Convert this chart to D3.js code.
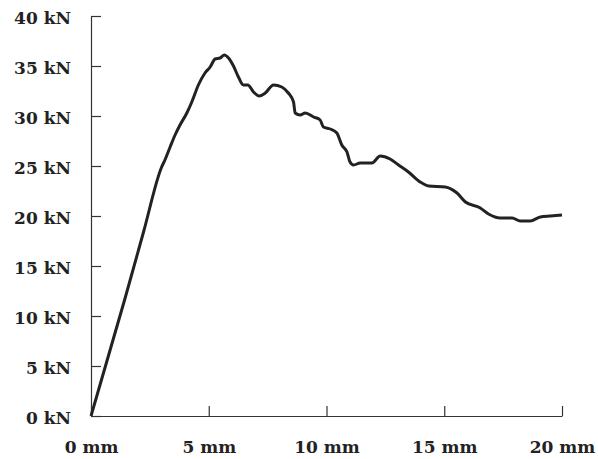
<!DOCTYPE html>
<html>
<head>
<meta charset="utf-8">
<script src="https://cdn.jsdelivr.net/npm/d3@7/dist/d3.min.js"></script>
<style>
  body { margin: 0; background: #fff; }
  .axis text { font-family: "DejaVu Serif", serif; font-weight: bold; font-size: 17px; fill: #222; }
  .axis path, .axis line { stroke: #333; stroke-width: 1.2; }
</style>
</head>
<body>
<svg id="mysvg"></svg>
<script>
// displacement (mm) and force (kN)
const disp = [0, 1.45, 2.23, 3.0, 3.14, 3.36, 3.57, 3.78, 4.07, 4.28, 4.56, 4.84, 5.06, 5.27, 5.48, 5.66, 5.84, 6.05,
    6.26, 6.47, 6.66, 6.9, 7.14, 7.4, 7.75, 8.1, 8.38, 8.6, 8.67, 8.88, 9.1, 9.45, 9.73, 9.87, 10.16, 10.44,
    10.65, 10.87, 11.0, 11.15, 11.43, 11.93, 12.28, 12.7, 13.06, 13.48, 13.98, 14.34, 15.04, 15.54, 15.9,
    16.53, 16.88, 17.38, 17.88, 18.23, 18.65, 19.08, 19.5, 20.0];
const force = [0, 11.8, 18.4, 24.9, 25.6, 26.9, 28.1, 29.1, 30.3, 31.4, 33.1, 34.3, 34.9, 35.7, 35.8, 36.1, 35.8, 35.0,
    33.9, 33.1, 33.1, 32.4, 32.0, 32.3, 33.1, 32.9, 32.3, 31.4, 30.3, 30.1, 30.3, 29.9, 29.6, 28.9, 28.7, 28.3,
    27.1, 26.4, 25.4, 25.1, 25.3, 25.3, 26.0, 25.7, 25.1, 24.4, 23.4, 23.0, 22.9, 22.3, 21.4,
    20.8, 20.2, 19.8, 19.8, 19.5, 19.5, 19.9, 20.0, 20.1];
const xticks = [0, 5, 10, 15, 20];
const yticks = [0, 5, 10, 15, 20, 25, 30, 35, 40];

const w = 598, h = 459;
const margin = {left: 91, right: 36, top: 16, bottom: 43};

const svg = d3.select("#mysvg")
    .attr("width", w)
    .attr("height", h);

const xScale = d3.scaleLinear()
    .domain([0, 20])
    .range([margin.left, w - margin.right]);

const yScale = d3.scaleLinear()
    .domain([0, 40])
    .range([h - margin.bottom, margin.top]);

// X axis, ticks pointing up
svg.append("g")
    .attr("class", "axis")
    .attr("transform", "translate(0," + (h - margin.bottom) + ")")
    .call(d3.axisBottom(xScale).tickValues(xticks).tickSizeInner(-10).tickSizeOuter(0).tickPadding(25)
        .tickFormat(d => d + " mm"));

// Y axis, ticks pointing right
svg.append("g")
    .attr("class", "axis")
    .attr("transform", "translate(" + margin.left + ",0)")
    .call(d3.axisLeft(yScale).tickValues(yticks).tickSizeInner(-10).tickSizeOuter(0).tickPadding(20)
        .tickFormat(d => d + " kN"))
    .selectAll("text")
    .attr("dy", "0.42em");

const line = d3.line()
    .x((d, i) => xScale(disp[i]))
    .y(d => yScale(d))
    .curve(d3.curveMonotoneX);

svg.append("path")
    .datum(force)
    .attr("fill", "none")
    .attr("stroke", "#222")
    .attr("stroke-width", 3)
    .attr("stroke-linejoin", "round")
    .attr("d", line);
</script>
</body>
</html>
